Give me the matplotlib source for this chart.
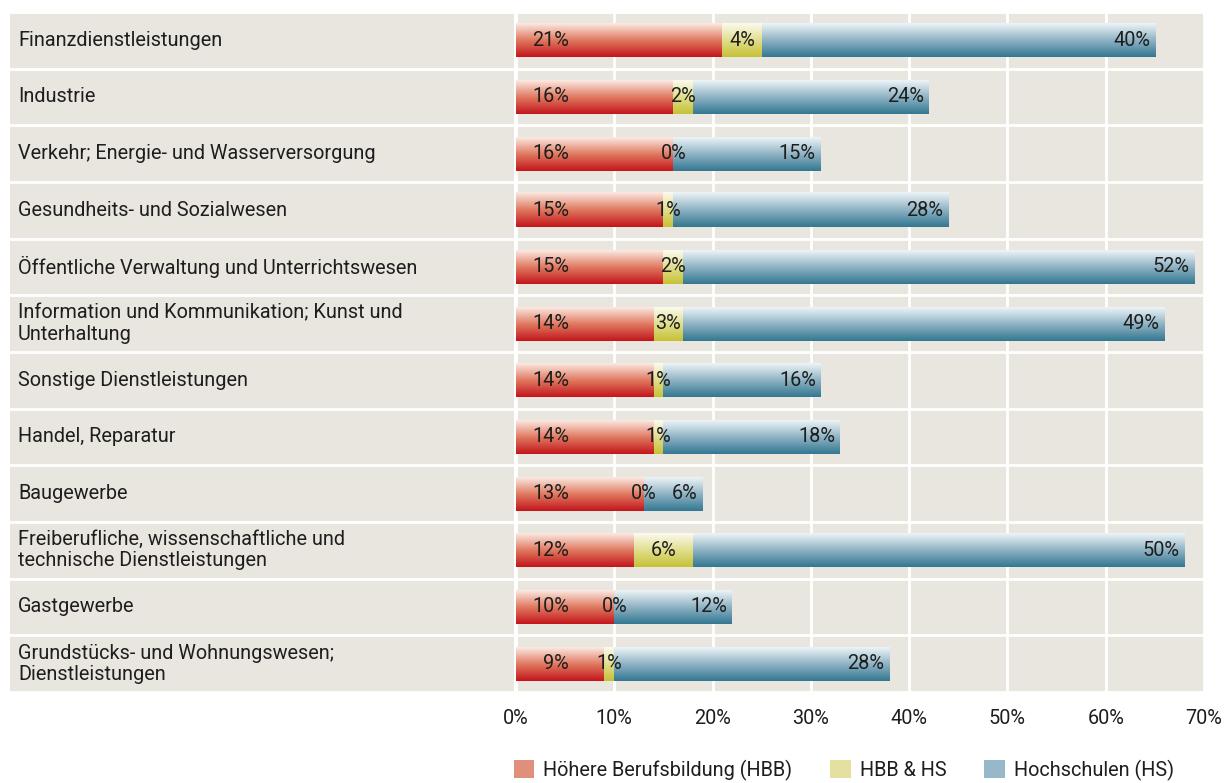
import numpy as np
import matplotlib
matplotlib.use("Agg")
import matplotlib.pyplot as plt
from matplotlib.colors import LinearSegmentedColormap
from matplotlib.patches import Patch

plt.rcParams['font.family'] = ['Roboto', 'DejaVu Sans']

categories = [
    "Finanzdienstleistungen",
    "Industrie",
    "Verkehr; Energie- und Wasserversorgung",
    "Gesundheits- und Sozialwesen",
    "Öffentliche Verwaltung und Unterrichtswesen",
    "Information und Kommunikation; Kunst und\nUnterhaltung",
    "Sonstige Dienstleistungen",
    "Handel, Reparatur",
    "Baugewerbe",
    "Freiberufliche, wissenschaftliche und\ntechnische Dienstleistungen",
    "Gastgewerbe",
    "Grundstücks- und Wohnungswesen;\nDienstleistungen",
]
hbb = [21, 16, 16, 15, 15, 14, 14, 14, 13, 12, 10, 9]
both = [4, 2, 0, 1, 2, 3, 1, 1, 0, 6, 0, 1]
hs = [40, 24, 15, 28, 52, 49, 16, 18, 6, 50, 12, 28]
series_names = ["Höhere Berufsbildung (HBB)", "HBB & HS", "Hochschulen (HS)"]
xticks = [0, 10, 20, 30, 40, 50, 60, 70]

bg = "#e9e6e0"
txt = "#1e1e1e"
fs = 14.3
grads = [
    ["#c4161c", "#e07a60", "#fbe9e2"],
    ["#c6c236", "#e1de8e", "#fbfaee"],
    ["#337891", "#8fb3c4", "#edf4f7"],
]
legend_cols = ["#e0907a", "#e3e0a0", "#97b8c8"]

n = len(categories)
ypos = np.arange(n)[::-1]

W, H = 1226, 783
fig = plt.figure(figsize=(W / 100, H / 100), dpi=100)
bottom = 1 - 692 / H
height = (692 - 12) / H

ax_lab = fig.add_axes([10 / W, bottom, (514 - 10) / W, height])
ax = fig.add_axes([516 / W, bottom, (1204 - 516) / W, height])

for a in (ax_lab, ax):
    a.set_facecolor(bg)
    a.set_ylim(-0.5, n - 0.5)
    for s in a.spines.values():
        s.set_visible(False)
    for y in np.arange(n + 1) - 0.5:
        a.axhline(y, color="white", lw=2, zorder=1)

ax_lab.set_xlim(0, 1)
ax_lab.set_xticks([])
ax_lab.set_yticks([])
for lab, y in zip(categories, ypos):
    ax_lab.text(0.016, y, lab, ha="left", va="center", fontsize=fs, color=txt,
                linespacing=1.15)

ax.set_xlim(0, 70)
ax.set_yticks([])
ax.set_xticks(xticks)
ax.set_xticklabels([f"{t}%" for t in xticks], fontsize=fs, color=txt)
ax.tick_params(axis="x", length=0, pad=12)
for t in xticks:
    ax.axvline(t, color="white", lw=2, zorder=1)

bh = 0.6
lefts = np.zeros(n)
for vals, g in zip([hbb, both, hs], grads):
    cmap = LinearSegmentedColormap.from_list("g", g)
    bars = ax.barh(ypos, vals, left=lefts, height=bh, color="none", zorder=2)
    for b in bars:
        x0, y0 = b.get_x(), b.get_y()
        w, h = b.get_width(), b.get_height()
        if w <= 0:
            continue
        grad = np.linspace(0, 1, 64).reshape(-1, 1)
        ax.imshow(grad, cmap=cmap, origin="lower", aspect="auto",
                  extent=[x0, x0 + w, y0, y0 + h], zorder=2, interpolation="bilinear")
    lefts = lefts + np.array(vals)

ax.set_xlim(0, 70)
ax.set_ylim(-0.5, n - 0.5)

for i, y in enumerate(ypos):
    ax.text(5.4, y, f"{hbb[i]}%", ha="right", va="center", fontsize=fs, color=txt, zorder=3)
    ax.text(hbb[i] + both[i] / 2, y, f"{both[i]}%", ha="center", va="center",
            fontsize=fs, color=txt, zorder=3)
    ax.text(hbb[i] + both[i] + hs[i] - 0.5, y, f"{hs[i]}%", ha="right", va="center",
            fontsize=fs, color=txt, zorder=3)

handles = [Patch(facecolor=c, edgecolor="none") for c in legend_cols]
fig.legend(handles, series_names, loc="center", bbox_to_anchor=(844 / W, 1 - 770 / H),
           ncol=3, frameon=False, fontsize=fs, handlelength=1.05, handleheight=1.05,
           columnspacing=1.9, handletextpad=0.45, labelcolor=txt)

fig.savefig("out.png", dpi=100, facecolor="white")
